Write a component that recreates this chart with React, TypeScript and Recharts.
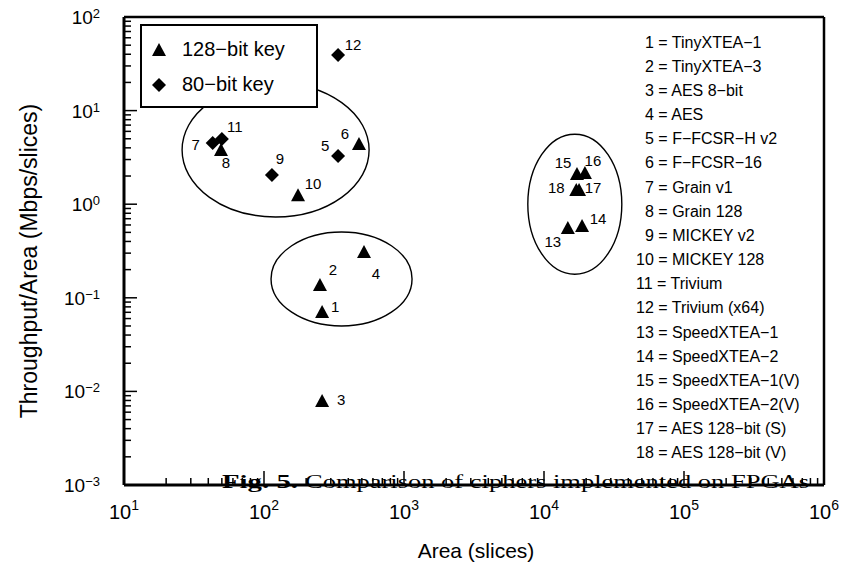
import {
  ScatterChart,
  Scatter,
  XAxis,
  YAxis,
  ReferenceLine,
  ReferenceDot,
  Legend,
} from "recharts";

const cipherIds = [1, 2, 3, 4, 5, 6, 7, 8, 9, 10, 11, 12, 13, 14, 15, 16, 17, 18];
const cipherNames = [
  "TinyXTEA−1",
  "TinyXTEA−3",
  "AES 8−bit",
  "AES",
  "F−FCSR−H v2",
  "F−FCSR−16",
  "Grain v1",
  "Grain 128",
  "MICKEY v2",
  "MICKEY 128",
  "Trivium",
  "Trivium (x64)",
  "SpeedXTEA−1",
  "SpeedXTEA−2",
  "SpeedXTEA−1(V)",
  "SpeedXTEA−2(V)",
  "AES 128−bit (S)",
  "AES 128−bit (V)",
];
const keyBits = [128, 128, 128, 128, 80, 128, 80, 128, 80, 128, 80, 80, 128, 128, 128, 128, 128, 128];
const areaSlices = [260, 251, 260, 518, 338, 477, 43, 49.3, 114, 175, 50, 338, 14800, 18700, 17200, 19600, 17800, 17000];
const throughputPerArea = [
  0.0705, 0.137, 0.0079, 0.308, 3.27, 4.4, 4.5, 3.79, 2.05, 1.25, 4.98, 39.3, 0.557, 0.585, 2.1, 2.15, 1.42, 1.42,
];

// centres of the three grouping ellipses
const groupArea = [121, 358, 16600];
const groupThroughput = [3.8, 0.159, 1.0];

const xDecades = [10, 100, 1000, 10000, 100000, 1000000];
const yDecades = [0.001, 0.01, 0.1, 1, 10, 100];
const mantissas = [1, 2, 3, 4, 5, 6, 7, 8, 9];

// label placement relative to each marker (px)
const labelOffset: Record<number, [number, number]> = {
  1: [13, -5], 2: [13, -15], 3: [19, -1], 4: [12, 22], 5: [-13, -10], 6: [-14, -10],
  7: [-17, 2], 8: [5, 13], 9: [8, -16], 10: [15, -11], 11: [13, -12], 12: [15, -10],
  13: [-15, 14], 14: [16, -7], 15: [-14, -11], 16: [8, -12], 17: [14, -2], 18: [-20, -2],
};
const ellipseRadii: [number, number][] = [[93.5, 67], [70.5, 47], [47, 70]];

const SANS = "'Liberation Sans', Arial, Helvetica, sans-serif";
const SERIF = "'Liberation Serif', 'Times New Roman', serif";

const points = cipherIds.map((id, i) => ({
  id,
  area: areaSlices[i],
  tput: throughputPerArea[i],
  bits: keyBits[i],
}));
const key128 = points.filter((p) => p.bits === 128);
const key80 = points.filter((p) => p.bits === 80);

const makeTicks = (decades: number[]) =>
  decades.flatMap((d, i) => (i === decades.length - 1 ? [d] : mantissas.map((m) => +(d * m).toPrecision(6))));
const xTicks = makeTicks(xDecades);
const yTicks = makeTicks(yDecades);

const isMajor = (v: number) => {
  const e = Math.log10(v);
  return Math.abs(e - Math.round(e)) < 1e-6;
};
const expText = (v: number) => {
  const e = Math.round(Math.log10(v));
  return e < 0 ? `−${-e}` : `${e}`;
};

function XTick(props: any) {
  const { x, y, payload } = props;
  const major = isMajor(payload.value);
  return (
    <g>
      <path d={`M${x},${y}V${y - (major ? 14 : 7)}`} stroke="#000" strokeWidth={1.5} fill="none" />
      {major && (
        <text x={x} y={y + 34} textAnchor="middle" fontSize={20} fontFamily={SANS} fill="#000">
          10
          <tspan dy={-9} fontSize={14}>
            {expText(payload.value)}
          </tspan>
        </text>
      )}
    </g>
  );
}

function YTick(props: any) {
  const { x, y, payload } = props;
  const major = isMajor(payload.value);
  return (
    <g>
      <path d={`M${x},${y}H${x + (major ? 13 : 7)}`} stroke="#000" strokeWidth={1.5} fill="none" />
      {major && (
        <text x={x - 24} y={y + 7} textAnchor="end" fontSize={19} fontFamily={SANS} fill="#000">
          10
          <tspan dy={-6} fontSize={13}>
            {expText(payload.value)}
          </tspan>
        </text>
      )}
    </g>
  );
}

function markerPath(kind: "triangle" | "diamond", cx: number, cy: number) {
  if (kind === "triangle") {
    return `M${cx},${cy - 7}L${cx + 7},${cy + 6}L${cx - 7},${cy + 6}Z`;
  }
  return `M${cx},${cy - 7}L${cx + 7},${cy}L${cx},${cy + 7}L${cx - 7},${cy}Z`;
}

const makeShape = (kind: "triangle" | "diamond") => (props: any) => {
  const { cx, cy, payload } = props;
  const [dx, dy] = labelOffset[payload.id] ?? [12, -10];
  return (
    <g>
      <path d={markerPath(kind, cx, cy)} fill="#000" />
      <text x={cx + dx} y={cy + dy + 5} textAnchor="middle" fontSize={15} fontFamily={SANS} fill="#000">
        {payload.id}
      </text>
    </g>
  );
};

function LegendBox(props: any) {
  const items = props.payload ?? [];
  return (
    <div
      style={{
        width: 174,
        height: 80,
        border: "2px solid #000",
        background: "#fff",
        boxSizing: "content-box",
        fontFamily: SANS,
      }}
    >
      {items.map((item: any, i: number) => (
        <div key={i} style={{ height: 35, display: "flex", alignItems: "center", marginTop: i === 0 ? 6 : 0 }}>
          <svg width={16} height={16} style={{ marginLeft: 9, marginRight: 15 }}>
            <path d={markerPath(item.type === "diamond" ? "diamond" : "triangle", 8, 8)} fill="#000" />
          </svg>
          <span style={{ fontSize: 20, color: "#000" }}>{item.value}</span>
        </div>
      ))}
    </div>
  );
}

function NameList() {
  return (
    <g>
      {cipherIds.map((id, i) => (
        <text
          key={id}
          x={id < 10 ? 645 : 636}
          y={47.5 + i * 24.17}
          fontSize={16}
          fontFamily={SANS}
          fill="#000"
        >
          {`${id} = ${cipherNames[i]}`}
        </text>
      ))}
    </g>
  );
}

function Caption() {
  return (
    <g fontFamily={SERIF} fill="#000">
      <text x={222} y={488} fontSize={18} fontWeight="bold" textLength={76} lengthAdjust="spacingAndGlyphs">
        Fig. 5.
      </text>
      <text x={305} y={488} fontSize={18} textLength={504} lengthAdjust="spacingAndGlyphs">
        Comparison of ciphers implemented on FPGAs
      </text>
    </g>
  );
}

export default function App() {
  return (
    <div style={{ position: "absolute", left: 0, top: 0, width: 842, height: 567, background: "#fff" }}>
      <ScatterChart width={842} height={567} margin={{ top: 17, right: 18, left: 0, bottom: 0 }}>
        <XAxis
          type="number"
          dataKey="area"
          scale="log"
          domain={[10, 1000000]}
          allowDataOverflow
          ticks={xTicks}
          interval={0}
          height={82}
          tickSize={0}
          tickMargin={0}
          tickLine={false}
          tick={<XTick />}
          axisLine={{ stroke: "#000", strokeWidth: 3 }}
          label={(p: any) => {
            const vb = p.viewBox;
            return (
              <text x={476} y={vb.y + 73} textAnchor="middle" fontSize={21} fontFamily={SANS} fill="#000">
                Area (slices)
              </text>
            );
          }}
        />
        <YAxis
          type="number"
          dataKey="tput"
          scale="log"
          domain={[0.001, 100]}
          allowDataOverflow
          ticks={yTicks}
          interval={0}
          width={124}
          tickSize={0}
          tickMargin={0}
          tickLine={false}
          tick={<YTick />}
          axisLine={{ stroke: "#000", strokeWidth: 3 }}
          label={(p: any) => {
            const vb = p.viewBox;
            const cy = vb.y + vb.height / 2 + 10;
            return (
              <text
                x={37}
                y={cy}
                transform={`rotate(-90 37 ${cy})`}
                textAnchor="middle"
                fontSize={23}
                fontFamily={SANS}
                fill="#000"
              >
                Throughput/Area (Mbps/slices)
              </text>
            );
          }}
        />
        <ReferenceLine y={100} stroke="#000" strokeWidth={2.5} />
        <ReferenceLine x={1000000} stroke="#000" strokeWidth={2.5} />
        {groupArea.map((a, i) => (
          <ReferenceDot
            key={i}
            x={a}
            y={groupThroughput[i]}
            r={1}
            shape={(p: any) => (
              <ellipse
                cx={p.cx}
                cy={p.cy}
                rx={ellipseRadii[i][0]}
                ry={ellipseRadii[i][1]}
                fill="none"
                stroke="#000"
                strokeWidth={1.4}
              />
            )}
          />
        ))}
        <Scatter
          name="128−bit key"
          data={key128}
          legendType="triangle"
          fill="#000"
          shape={makeShape("triangle")}
          isAnimationActive={false}
        />
        <Scatter
          name="80−bit key"
          data={key80}
          legendType="diamond"
          fill="#000"
          shape={makeShape("diamond")}
          isAnimationActive={false}
        />
        <Legend
          layout="horizontal"
          verticalAlign="middle"
          align="center"
          wrapperStyle={{ left: 140, top: 24, width: 178, height: 84 }}
          content={<LegendBox />}
        />
        <NameList />
        <Caption />
      </ScatterChart>
    </div>
  );
}
